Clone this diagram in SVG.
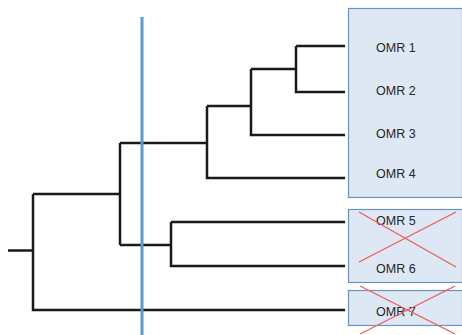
<svg xmlns="http://www.w3.org/2000/svg" width="462" height="335" viewBox="0 0 462 335">
<style>
.box{fill:#dee8f4;stroke:#7090bd;stroke-width:1.2}
.lbl{font-family:"Liberation Sans",Arial,sans-serif;font-size:12.5px;fill:#262626}
.tree{fill:none;stroke:#1a1a1a;stroke-width:2.5;stroke-linejoin:miter;stroke-linecap:butt}
.cross{stroke:#f0585a;stroke-width:1.2;fill:none}
.cut{stroke:#5b9bd5;stroke-width:3}
</style>
<rect width="462" height="335" fill="#ffffff"/>
<g id="group-1-4"><rect class="box" x="348.5" y="8.5" width="114" height="189"/></g>
<g id="group-5-6"><rect class="box" x="348.5" y="209.5" width="114" height="73"/></g>
<g id="group-7"><rect class="box" x="348.5" y="290.5" width="114" height="35"/></g>
<g id="connectors">
<path class="tree" d="M8,250.5 H33 M33,194 V310 H345 M33,194 H120 M120,143 V245 M120,143 H207 M207,106 V178 H345 M207,106 H251 M251,69 V135 H345 M251,69 H296 M296,46 V92 H345 M296,46 H345 M120,245 H171 M171,222 V266 H345 M171,222 H345"/>
</g>
<g id="cut-line"><line class="cut" x1="142" y1="17" x2="142" y2="335"/></g>
<g id="omr1"><text class="lbl" x="376" y="52">OMR 1</text></g>
<g id="omr2"><text class="lbl" x="376" y="95">OMR 2</text></g>
<g id="omr3"><text class="lbl" x="376" y="138">OMR 3</text></g>
<g id="omr4"><text class="lbl" x="376" y="178">OMR 4</text></g>
<g id="omr5"><text class="lbl" x="376" y="225">OMR 5</text></g>
<g id="omr6"><text class="lbl" x="376" y="273">OMR 6</text></g>
<g id="omr7"><text class="lbl" x="376" y="316">OMR 7</text></g>
<g id="crosses">
<line class="cross" x1="359" y1="212" x2="456" y2="267"/>
<line class="cross" x1="359" y1="262" x2="456" y2="212"/>
<line class="cross" x1="360" y1="286" x2="455" y2="334"/>
<line class="cross" x1="360" y1="334" x2="455" y2="286"/>
</g>
</svg>
